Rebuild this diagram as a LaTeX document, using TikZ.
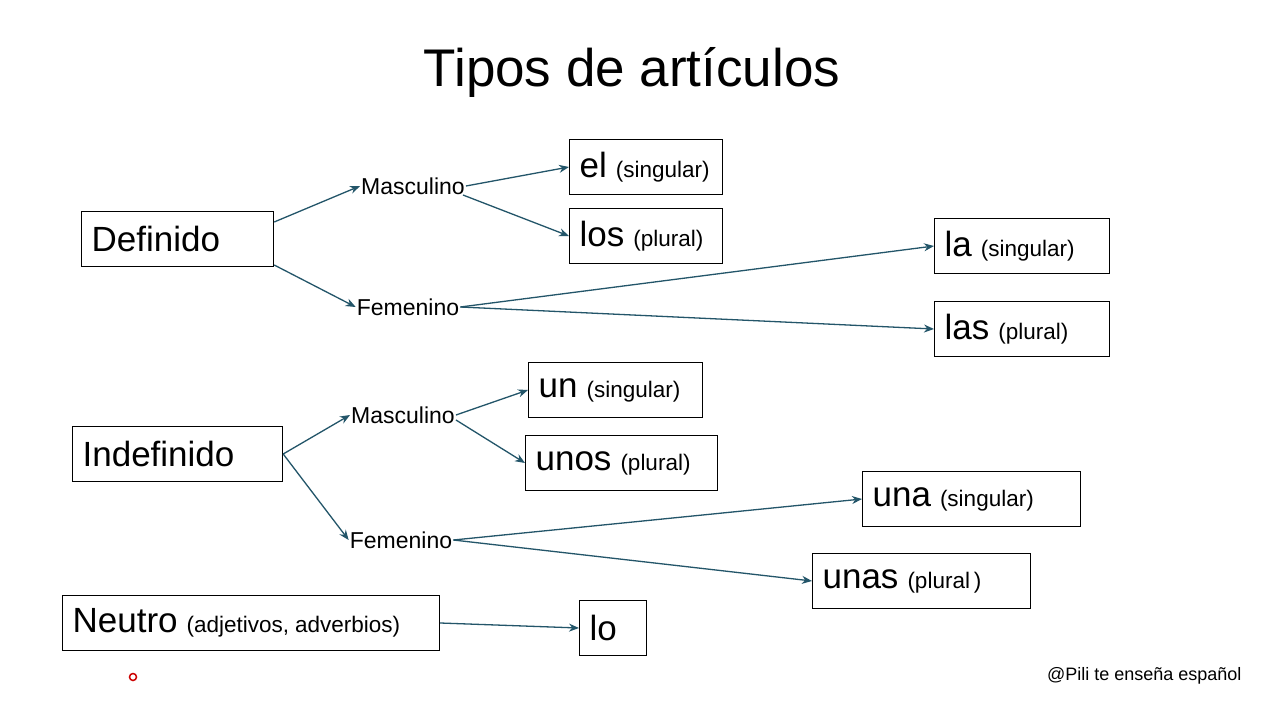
\documentclass[tikz,border=0pt]{standalone}
\usepackage{fontspec}
\setmainfont{Liberation Sans}
\usetikzlibrary{calc,arrows.meta}
\definecolor{arr}{RGB}{35,85,105}
\tikzset{
  bx/.style={draw=black,line width=1.2pt,minimum height=55pt,inner xsep=10pt,align=left,anchor=west},
  lbl/.style={font=\fontsize{23}{24}\selectfont,inner sep=1pt},
  ar/.style={draw=arr,line width=1.3pt,-{Stealth[length=10pt,width=8pt]}},
  big/.style={font=\fontsize{35}{36}\selectfont},
}
\newcommand{\sm}[1]{{\fontsize{22.5}{24}\selectfont\hspace{9pt}#1}}
\begin{document}
\begin{tikzpicture}[x=1pt,y=-1pt]
\useasboundingbox (0,0) rectangle (1280,720);
\fill[white] (0,0) rectangle (1280,720);
\node[font=\fontsize{53}{55}\selectfont] (title) at (632,72) {Tipos de artículos};
% definido
\node[bx,big,text width=172pt] (def) at (81,239) {Definido};
\node[lbl] (dm) at (413,186) {Masculino};
\node[lbl] (df) at (408,307) {Femenino};
\node[bx,big,text width=133pt] (el) at (569,167) {el\sm{(singular)}};
\node[bx,big,text width=133pt] (los) at (569,236) {los\sm{(plural)}};
\node[bx,big,text width=155pt] (la) at (934,246) {la\sm{(singular)}};
\node[bx,big,text width=155pt] (las) at (934,329) {las\sm{(plural)}};
% indefinido
\node[bx,big,text width=190pt] (ind) at (72,454) {Indefinido};
\node[lbl] (im) at (403,415) {Masculino};
\node[lbl] (if) at (401,540) {Femenino};
\node[bx,big,text width=154pt] (un) at (528,390) {un\sm{(singular)}};
\node[bx,big,text width=172pt] (unos) at (525,463) {unos\sm{(plural)}};
\node[bx,big,text width=198pt] (una) at (862,499) {una\sm{(singular)}};
\node[bx,big,text width=198pt] (unas) at (812,581) {unas\sm{(plural\hspace{4pt})}};
% neutro
\node[bx,big,text width=357pt] (neu) at (62,623) {Neutro\sm{(adjetivos,\hspace{6pt}adverbios)}};
\node[bx,big,text width=47pt] (lo) at (579,628) {lo};
\node[font=\fontsize{18}{19}\selectfont,anchor=east] (pili) at (1245,676) {@Pili te enseña español};
\draw[red!80!black,line width=1.5pt] (133,677) circle (3.5);
% arrows
\draw[ar] ($(def.east)+(0,-17)$) -- (dm.west);
\draw[ar] ($(def.east)+(0,26)$) -- (df.west);
\draw[ar] (dm.east) -- (el.west);
\draw[ar] ($(dm.east)+(-3,9)$) -- (los.west);
\draw[ar] (df.east) -- (la.west);
\draw[ar] (df.east) -- (las.west);
\draw[ar] (ind.east) -- (im.west);
\draw[ar] (ind.east) -- (if.west);
\draw[ar] (im.east) -- (un.west);
\draw[ar] ($(im.east)+(0,5)$) -- (unos.west);
\draw[ar] (if.east) -- (una.west);
\draw[ar] (if.east) -- (unas.west);
\draw[ar] (neu.east) -- (lo.west);
\end{tikzpicture}
\end{document}
